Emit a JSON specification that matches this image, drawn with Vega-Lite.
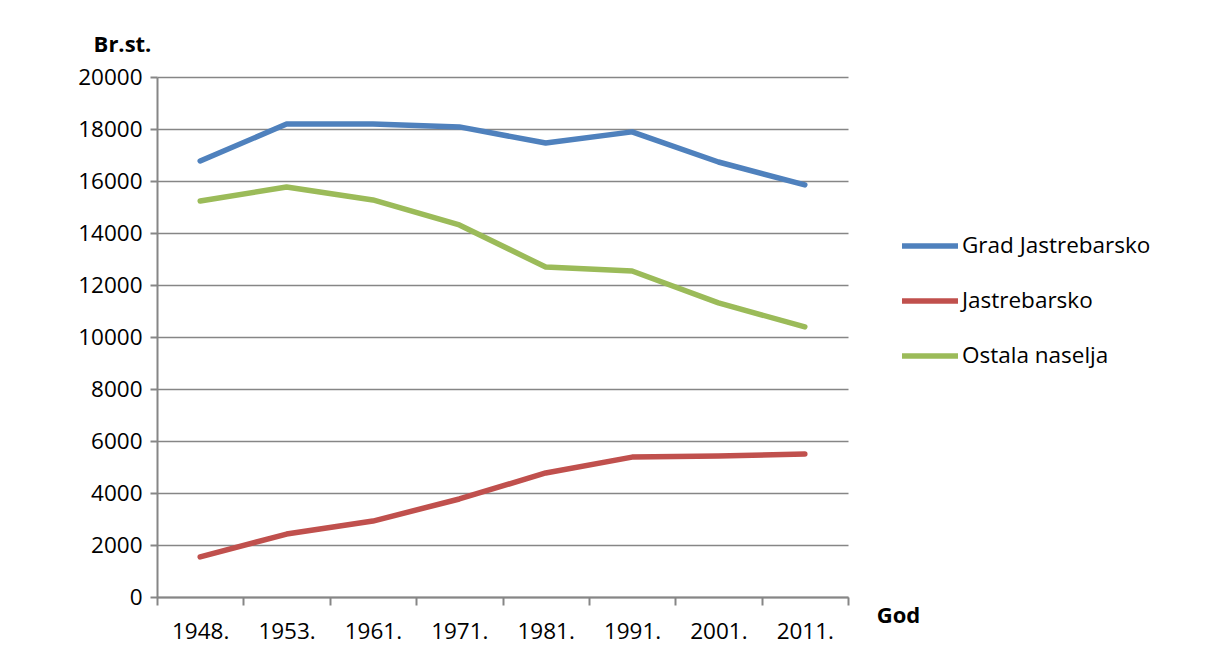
{
  "$schema": "https://vega.github.io/schema/vega-lite/v6.json",
  "width": 691,
  "height": 520,
  "autosize": {"type": "none"},
  "padding": {"left": 157, "top": 77, "right": 366, "bottom": 68},
  "background": "white",
  "config": {
    "view": {"stroke": null},
    "font": "Open Sans"
  },
  "data": {
    "values": [
      {"god": "1948.", "serija": "Grad Jastrebarsko", "br": 16770},
      {"god": "1953.", "serija": "Grad Jastrebarsko", "br": 18190},
      {"god": "1961.", "serija": "Grad Jastrebarsko", "br": 18190},
      {"god": "1971.", "serija": "Grad Jastrebarsko", "br": 18080},
      {"god": "1981.", "serija": "Grad Jastrebarsko", "br": 17460},
      {"god": "1991.", "serija": "Grad Jastrebarsko", "br": 17890},
      {"god": "2001.", "serija": "Grad Jastrebarsko", "br": 16730},
      {"god": "2011.", "serija": "Grad Jastrebarsko", "br": 15850},
      {"god": "1948.", "serija": "Jastrebarsko", "br": 1540},
      {"god": "1953.", "serija": "Jastrebarsko", "br": 2420},
      {"god": "1961.", "serija": "Jastrebarsko", "br": 2920},
      {"god": "1971.", "serija": "Jastrebarsko", "br": 3770},
      {"god": "1981.", "serija": "Jastrebarsko", "br": 4770},
      {"god": "1991.", "serija": "Jastrebarsko", "br": 5380},
      {"god": "2001.", "serija": "Jastrebarsko", "br": 5420},
      {"god": "2011.", "serija": "Jastrebarsko", "br": 5500},
      {"god": "1948.", "serija": "Ostala naselja", "br": 15230},
      {"god": "1953.", "serija": "Ostala naselja", "br": 15770},
      {"god": "1961.", "serija": "Ostala naselja", "br": 15270},
      {"god": "1971.", "serija": "Ostala naselja", "br": 14310},
      {"god": "1981.", "serija": "Ostala naselja", "br": 12690},
      {"god": "1991.", "serija": "Ostala naselja", "br": 12540},
      {"god": "2001.", "serija": "Ostala naselja", "br": 11310},
      {"god": "2011.", "serija": "Ostala naselja", "br": 10390}
    ]
  },
  "mark": {"type": "line", "strokeWidth": 5.5, "strokeCap": "round", "strokeJoin": "round"},
  "encoding": {
    "x": {
      "field": "god",
      "type": "ordinal",
      "sort": null,
      "scale": {"type": "band", "paddingInner": 0, "paddingOuter": 0},
      "axis": {
        "title": "God",
        "titleFont": "Open Sans",
        "titleFontSize": 22,
        "titleFontWeight": "bold",
        "titleColor": "black",
        "titleAngle": 0,
        "titleAlign": "center",
        "titleBaseline": "alphabetic",
        "titleX": 741,
        "titleY": 25,
        "labelAngle": 0,
        "labelFontSize": 22.5,
        "labelColor": "black",
        "labelPadding": 15,
        "tickBand": "extent",
        "tickSize": 8,
        "tickColor": "#868686",
        "tickWidth": 2,
        "domainColor": "#868686",
        "domainWidth": 2,
        "grid": false
      }
    },
    "y": {
      "field": "br",
      "type": "quantitative",
      "scale": {"domain": [0, 20000], "nice": false, "zero": true},
      "axis": {
        "title": "Br.st.",
        "titleFont": "Open Sans",
        "titleFontSize": 22,
        "titleFontWeight": "bold",
        "titleColor": "black",
        "titleAngle": 0,
        "titleAlign": "center",
        "titleBaseline": "alphabetic",
        "titleX": -35,
        "titleY": -26,
        "values": [0, 2000, 4000, 6000, 8000, 10000, 12000, 14000, 16000, 18000, 20000],
        "format": "d",
        "labelFontSize": 22.5,
        "labelColor": "black",
        "labelPadding": 8,
        "tickSize": 7,
        "tickColor": "#868686",
        "tickWidth": 2,
        "domainColor": "#868686",
        "domainWidth": 2,
        "grid": true,
        "gridColor": "#868686",
        "gridWidth": 1.5
      }
    },
    "color": {
      "field": "serija",
      "type": "nominal",
      "scale": {
        "domain": ["Grad Jastrebarsko", "Jastrebarsko", "Ostala naselja"],
        "range": ["#4F81BD", "#C0504D", "#9BBB59"]
      },
      "legend": {
        "title": null,
        "orient": "none",
        "legendX": 742,
        "legendY": 138,
        "symbolType": "stroke",
        "symbolSize": 3136,
        "symbolStrokeWidth": 5.5,
        "labelFontSize": 22.5,
        "labelColor": "black",
        "labelOffset": 1,
        "labelLimit": 400,
        "rowPadding": 12
      }
    }
  }
}
